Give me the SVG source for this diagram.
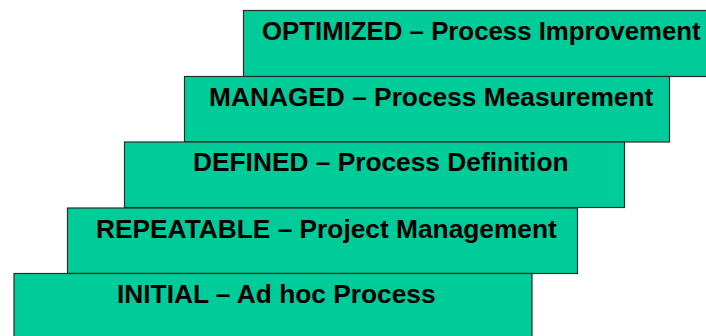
<svg xmlns="http://www.w3.org/2000/svg" width="706" height="336" viewBox="0 0 706 336">
<style>
.box{fill:#00CC99;stroke:#2b2b2b;stroke-width:1.2}
.lbl{font-family:"Liberation Sans",Arial,sans-serif;font-weight:bold;font-size:26.3px;fill:#000}
</style>
<rect width="706" height="336" fill="#fff"/>
<g id="optimized"><rect class="box" x="243.5" y="10.5" width="480" height="66"/><text class="lbl" x="262" y="40" style="font-size:25.8px">OPTIMIZED – Process Improvement</text></g>
<g id="managed"><rect class="box" x="184.5" y="76.5" width="485" height="65.5"/><text class="lbl" x="209" y="106">MANAGED – Process Measurement</text></g>
<g id="defined"><rect class="box" x="124.5" y="142" width="500" height="65.5"/><text class="lbl" x="193" y="171">DEFINED – Process Definition</text></g>
<g id="repeatable"><rect class="box" x="67.5" y="208" width="510" height="65.5"/><text class="lbl" x="96" y="238">REPEATABLE – Project Management</text></g>
<g id="initial"><rect class="box" x="14" y="273.5" width="518" height="70"/><text class="lbl" x="117" y="303">INITIAL – Ad hoc Process</text></g>
<g id="connectors"/>
</svg>
